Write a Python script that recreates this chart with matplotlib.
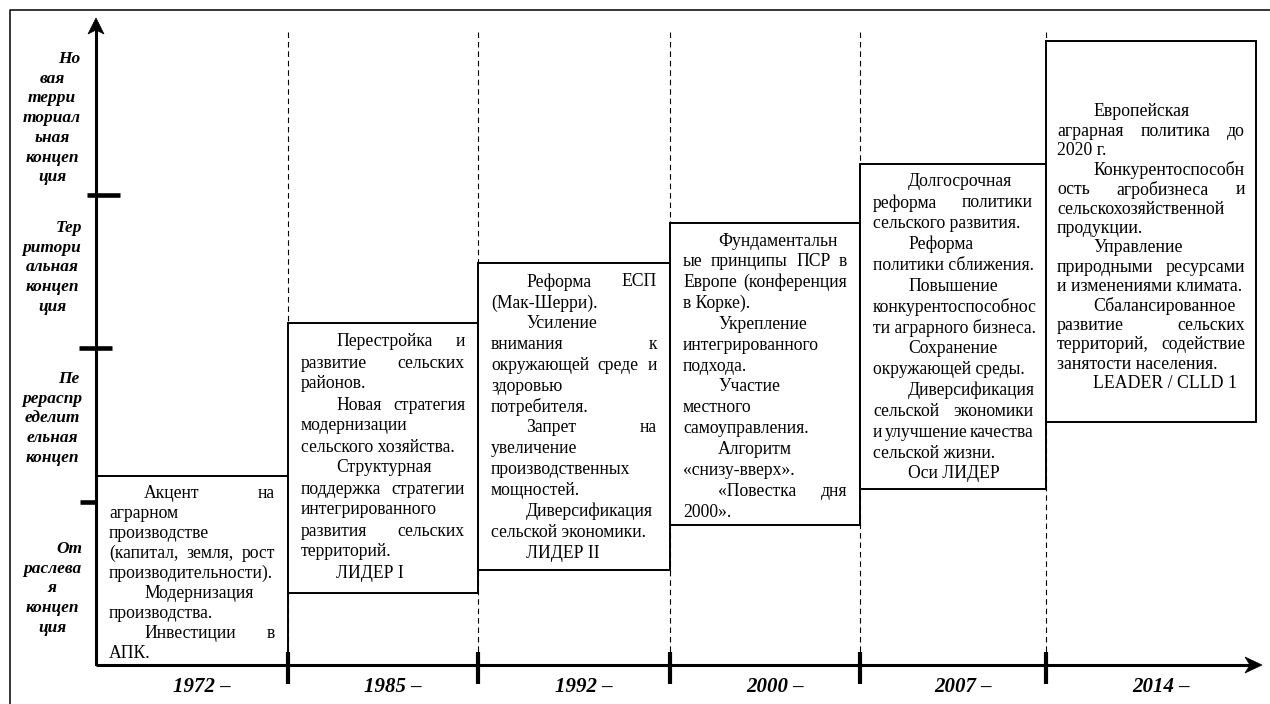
import matplotlib.pyplot as plt
from matplotlib.patches import Rectangle, Polygon

W, H = 1270, 704

# ---- data ----
years = [1972, 1985, 1992, 2000, 2007, 2014]

concepts = [
    ['Но', 'вая', 'терри', 'ториал', 'ьная', 'концеп', 'ция'],
    ['Тер', 'ритори', 'альная', 'концеп', 'ция'],
    ['Пе', 'рераспр', 'еделит', 'ельная', 'концеп'],
    ['От', 'раслева', 'я', 'концеп', 'ция'],
]

box_texts = [
    [['Акцент на', 'аграрном', 'производстве', '(капитал, земля, рост', 'производительности).'],
     ['Модернизация', 'производства.'],
     ['Инвестиции в', 'АПК.']],
    [['Перестройка и', 'развитие сельских', 'районов.'],
     ['Новая стратегия', 'модернизации', 'сельского хозяйства.'],
     ['Структурная', 'поддержка стратегии', 'интегрированного', 'развития сельских', 'территорий.'],
     ['ЛИДЕР I']],
    [['Реформа ЕСП', '(Мак-Шерри).'],
     ['Усиление', 'внимания к', 'окружающей среде и', 'здоровью', 'потребителя.'],
     ['Запрет на', 'увеличение', 'производственных', 'мощностей.'],
     ['Диверсификация', 'сельской экономики.'],
     ['ЛИДЕР II']],
    [['Фундаментальн', 'ые принципы ПСР в', 'Европе (конференция', 'в Корке).'],
     ['Укрепление', 'интегрированного', 'подхода.'],
     ['Участие', 'местного', 'самоуправления.'],
     ['Алгоритм', '«снизу-вверх».'],
     ['«Повестка дня', '2000».']],
    [['Долгосрочная', 'реформа политики', 'сельского развития.'],
     ['Реформа', 'политики сближения.'],
     ['Повышение', 'конкурентоспособнос', 'ти аграрного бизнеса.'],
     ['Сохранение', 'окружающей среды.'],
     ['Диверсификация', 'сельской экономики', 'и улучшение качества', 'сельской жизни.'],
     ['Оси ЛИДЕР']],
    [['Европейская', 'аграрная политика до', '2020 г.'],
     ['Конкурентоспособн', 'ость агробизнеса и', 'сельскохозяйственной', 'продукции.'],
     ['Управление', 'природными ресурсами', 'и изменениями климата.'],
     ['Сбалансированное', 'развитие сельских', 'территорий, содействие', 'занятости населения.'],
     ['LEADER / CLLD 1']],
]

# ---- layout (pixel units) ----
col_edges = [96, 288, 478, 670, 860, 1046, 1256]
box_top = [476, 323, 263, 223, 164, 41]
box_bottom = [665, 593, 570, 525, 489, 422]
first_line = [493, 342, 282, 241, 182, 112]
line_h = [20.0, 21.0, 20.85, 20.85, 20.85, 19.4]
pad = [13, 13, 13, 13, 13, 11]
indent = [35, 35, 35, 35, 35, 36]
font_size = [12.7, 12.7, 12.7, 12.7, 12.7, 12.8]

concept_first = [59, 228, 379, 549]
concept_h = 19.7
level_ticks = [(195, 87, 120), (348, 79, 112), (502, 80, 97)]

x0, y0 = 96, 665          # origin of the two axes
y_tip, x_tip = 18, 1262

serif = ['Liberation Serif', 'DejaVu Serif']
bold_it = dict(family=serif, weight='bold', style='italic', color='black')

fig = plt.figure(figsize=(W / 100, H / 100), dpi=100)
ax = fig.add_axes([0, 0, 1, 1])
ax.set_xlim(0, W)
ax.set_ylim(H, 0)
ax.axis('off')
renderer = fig.canvas.get_renderer()


def text_width(s, **kw):
    t = ax.text(0, 0, s, **kw)
    w = t.get_window_extent(renderer).width
    t.remove()
    return w


# outer frame
ax.plot([10, 10, W], [H, 10, 10], color='black', lw=1.1, zorder=1)

# dashed period separators
for x in col_edges[1:-1]:
    ax.plot([x, x], [32, y0], color='black', lw=0.8, ls=(0, (5, 3.5)), zorder=1)

# boxes with justified text
for i, paras in enumerate(box_texts):
    left, right = col_edges[i], col_edges[i + 1]
    body = dict(family=serif, size=font_size[i], color='black')
    ax.add_patch(Rectangle((left, box_top[i]), right - left, box_bottom[i] - box_top[i],
                           facecolor='white', edgecolor='black', lw=1.4, zorder=2))
    y = first_line[i]
    for para in paras:
        for j, line in enumerate(para):
            xs = left + pad[i] + (indent[i] if j == 0 else 0)
            xe = right - pad[i]
            words = line.split()
            last = j == len(para) - 1
            if last or len(words) < 2:
                ax.text(xs, y, line, ha='left', va='center', zorder=4, **body)
            else:
                widths = [text_width(w, **body) for w in words]
                gap = (xe - xs - sum(widths)) / (len(words) - 1)
                x = xs
                for w, wd in zip(words, widths):
                    ax.text(x, y, w, ha='left', va='center', zorder=4, **body)
                    x += wd + gap
            y += line_h[i]

# axes
ax.plot([x0, x0], [y0, y_tip + 10], color='black', lw=2.2, zorder=3, solid_capstyle='butt')
ax.plot([x0, x_tip - 10], [y0, y0], color='black', lw=2.2, zorder=3, solid_capstyle='butt')
ax.add_patch(Polygon([(x0, y_tip), (x0 - 8, y_tip + 16), (x0, y_tip + 12), (x0 + 8, y_tip + 16)],
                     closed=True, facecolor='black', edgecolor='black', lw=0.5, zorder=3))
ax.add_patch(Polygon([(x_tip, y0), (x_tip - 17, y0 - 8), (x_tip - 12, y0), (x_tip - 17, y0 + 8)],
                     closed=True, facecolor='black', edgecolor='black', lw=0.5, zorder=3))

# y-axis level ticks
for yy, xa, xb in level_ticks:
    ax.plot([xa, xb], [yy, yy], color='black', lw=3.3, zorder=3, solid_capstyle='butt')

# x-axis period ticks
for x in col_edges[1:-1]:
    ax.plot([x, x], [652, 684], color='black', lw=3.0, zorder=3, solid_capstyle='butt')

# concept labels on the y-axis
for k, lines in enumerate(concepts):
    for j, s in enumerate(lines):
        ax.text(69 if j == 0 else 52, concept_first[k] + j * concept_h, s,
                ha='center', va='center', size=12.5, **bold_it)

# year labels
for i, yr in enumerate(years):
    xc = (col_edges[i] + col_edges[i + 1]) / 2 + 10
    ax.text(xc, 687, f'{yr} –', ha='center', va='center', size=15, **bold_it)

plt.savefig('out.png', dpi=100)
